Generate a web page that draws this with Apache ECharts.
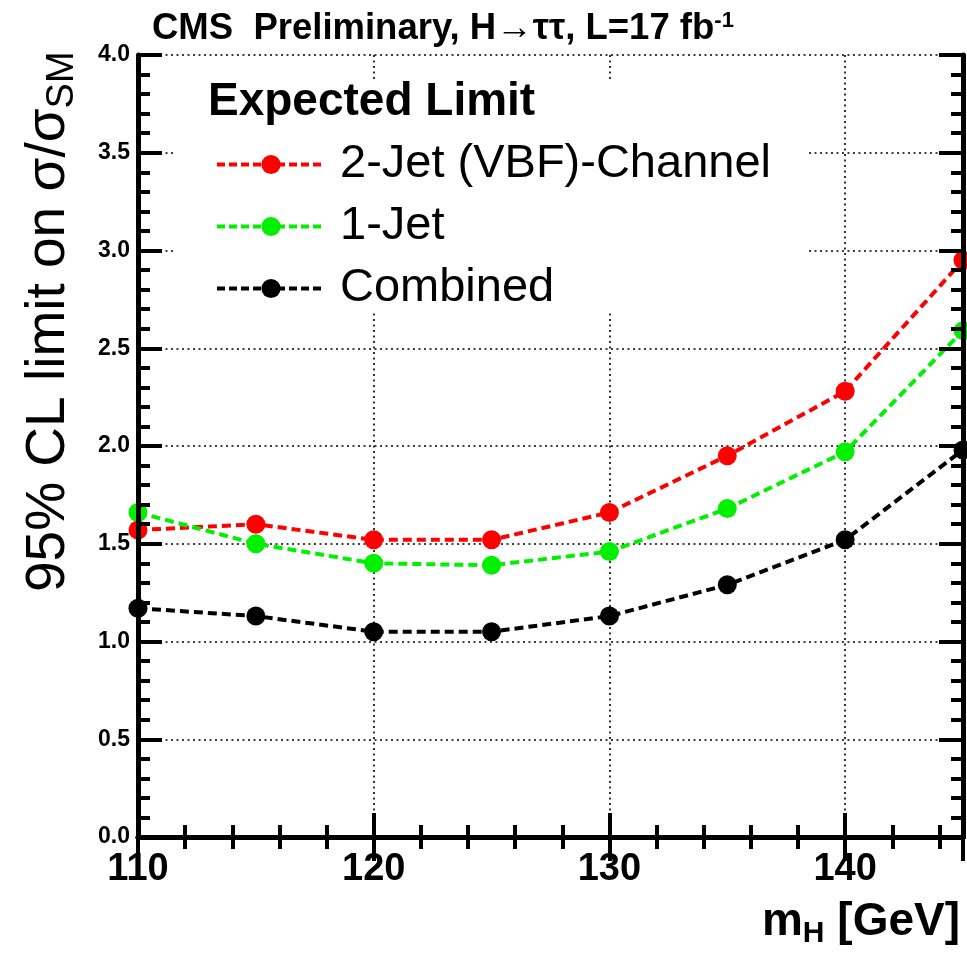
<!DOCTYPE html>
<html>
<head>
<meta charset="utf-8">
<script src="https://cdn.jsdelivr.net/npm/echarts@6/dist/echarts.min.js"></script>
<style>
html,body{margin:0;padding:0;background:#fff;}
#chart{width:967px;height:957px;}
</style>
</head>
<body>
<div id="chart"></div>
<script>
// ---- data ----
const massPoints = [110, 115, 120, 125, 130, 135, 140, 145];
const twoJetLimit = [1.57, 1.60, 1.52, 1.52, 1.66, 1.95, 2.28, 2.95];
const oneJetLimit = [1.66, 1.50, 1.40, 1.39, 1.46, 1.68, 1.97, 2.59];
const combinedLimit = [1.17, 1.13, 1.05, 1.05, 1.13, 1.29, 1.52, 1.98];
const seriesNames = ['2-Jet (VBF)-Channel', '1-Jet', 'Combined'];
const seriesColors = ['#ff0000', '#00f000', '#000000'];
const xTickLabels = [110, 120, 130, 140];
const yTickLabels = ['0.0','0.5','1.0','1.5','2.0','2.5','3.0','3.5','4.0'];

const FONT = 'Liberation Sans, Arial, Helvetica, sans-serif';
const chart = echarts.init(document.getElementById('chart'), null, {renderer: 'canvas'});

function pairs(ys) { return massPoints.map((m, i) => [m, ys[i]]); }

function tickAxis(extra) {
  return Object.assign({
    gridIndex: 0,
    axisLine: {show: true, lineStyle: {color: '#000', width: 5}},
    axisTick: {show: true, inside: true, length: 24, lineStyle: {color: '#000', width: 4}},
    minorTick: {show: true, splitNumber: 5, length: 12, lineStyle: {color: '#000', width: 4}},
    splitLine: {show: false},
    z: 5
  }, extra);
}

const gridLine = {show: true, lineStyle: {color: '#000', type: [2, 3.5], width: 1.6}};
const gridBox = {left: 138, right: 4, top: 55, bottom: 120, containLabel: false, outerBoundsMode: 'none'};

const option = {
  backgroundColor: '#fff',
  animation: false,
  grid: [Object.assign({}, gridBox), Object.assign({}, gridBox)],
  xAxis: [
    tickAxis({
      type: 'value', min: 110, max: 145, interval: 10, position: 'bottom',
      axisLabel: {show: true, color: '#000', fontFamily: FONT, fontWeight: 'bold', fontSize: 38, margin: 14,
        customValues: xTickLabels, formatter: v => String(v)}
    }),
    tickAxis({
      type: 'value', min: 110, max: 145, interval: 10, position: 'top',
      axisLabel: {show: false}
    }),
    {
      gridIndex: 1, type: 'value', min: 110, max: 145, interval: 10, position: 'bottom', z: 0,
      axisLine: {show: false}, axisTick: {show: false}, axisLabel: {show: false},
      splitLine: gridLine
    }
  ],
  yAxis: [
    tickAxis({
      type: 'value', min: 0, max: 4, interval: 0.5, position: 'left',
      axisLabel: {show: true, color: '#000', fontFamily: FONT, fontWeight: 'bold', fontSize: 23, margin: 8,
        formatter: v => yTickLabels[Math.round(v * 2)]}
    }),
    tickAxis({
      type: 'value', min: 0, max: 4, interval: 0.5, position: 'right',
      axisLabel: {show: false}
    }),
    {
      gridIndex: 1, type: 'value', min: 0, max: 4, interval: 0.5, position: 'left', z: 0,
      axisLine: {show: false}, axisTick: {show: false}, axisLabel: {show: false},
      splitLine: gridLine
    }
  ],
  legend: {
    orient: 'vertical', left: 210, top: 136, itemGap: 15,
    itemWidth: 108, itemHeight: 24,
    lineStyle: {width: 4, type: [8, 4]},
    textStyle: {fontFamily: FONT, fontSize: 47, color: '#000', lineHeight: 40, padding: [0, 0, 0, 10]},
    data: seriesNames,
    z: 6
  },
  graphic: [
    {type: 'rect', shape: {x: 175, y: 82, width: 632, height: 230}, style: {fill: '#fff'}, z: 1, silent: true},
    {type: 'text', left: 152, top: 10, z: 10,
     style: {text: '{b|CMS  Preliminary, H\u2192\u03c4\u03c4, L=17 fb}{sup|-1}',
       rich: {b: {fontFamily: FONT, fontWeight: 'bold', fontSize: 36.5, fill: '#000'},
              sup: {fontFamily: FONT, fontWeight: 'bold', fontSize: 22, fill: '#000', verticalAlign: 'top', padding: [0,0,16,0]}}}},
    {type: 'text', left: 208, top: 79, z: 10,
     style: {text: 'Expected Limit', fontFamily: FONT, fontWeight: 'bold', fontSize: 46, fill: '#000'}},
    {type: 'text', right: 7, top: 899, z: 10,
     style: {text: '{b|m}{s|H}{b| [GeV]}',
       rich: {b: {fontFamily: FONT, fontWeight: 'bold', fontSize: 46, fill: '#000'},
              s: {fontFamily: FONT, fontWeight: 'bold', fontSize: 30, fill: '#000', padding: [24,0,0,0]}}}},
    {type: 'text', x: 16, y: 592, rotation: Math.PI / 2, z: 10,
     style: {text: '{a|95% CL limit on \u03c3/\u03c3}{s|SM}',
       rich: {a: {fontFamily: FONT, fontSize: 55, fill: '#000'},
              s: {fontFamily: FONT, fontSize: 38, fill: '#000', padding: [28,0,0,0]}}}}
  ],
  series: seriesNames.map((name, k) => ({
    name: name,
    type: 'line',
    xAxisIndex: 0, yAxisIndex: 0,
    data: pairs([twoJetLimit, oneJetLimit, combinedLimit][k]),
    symbol: 'circle', symbolSize: 19,
    clip: false,
    itemStyle: {color: seriesColors[k]},
    lineStyle: {color: seriesColors[k], width: 4, type: [9, 5]},
    z: 2
  }))
};
chart.setOption(option);
</script>
</body>
</html>
